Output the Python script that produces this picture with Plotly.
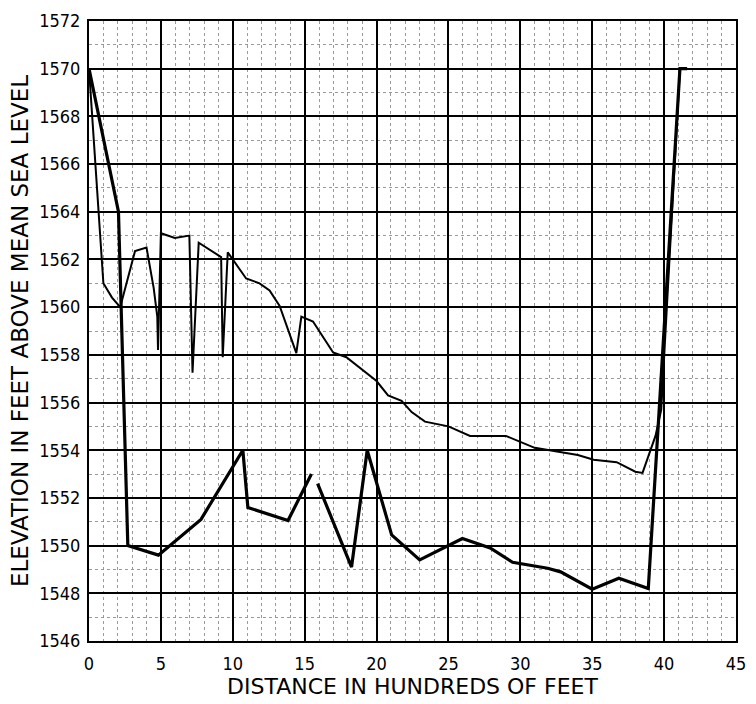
import plotly.graph_objects as go

# Upper (water-surface) profile
upper_x = [0.0, 1.0, 1.6, 2.17, 3.2, 4.0, 4.5, 4.75, 4.8, 4.9, 5.0, 5.97, 6.98, 7.2, 7.63,
           9.19, 9.3, 9.65, 10.47, 10.93, 11.86, 12.56, 13.26, 14.42, 14.77, 15.58, 16.98,
           17.9, 20.0, 20.8, 21.74, 22.44, 23.37, 25.0, 26.5, 29.0, 31.0, 34.0, 35.1, 36.7,
           38.0, 38.5, 39.4, 39.8, 41.1]
upper_y = [1570.0, 1561.0, 1560.4, 1560.0, 1562.35, 1562.5, 1560.8, 1559.6, 1558.2, 1560.8,
           1563.1, 1562.9, 1563.0, 1557.25, 1562.7, 1562.1, 1557.9, 1562.3, 1561.6, 1561.2,
           1561.0, 1560.7, 1560.05, 1558.07, 1559.6, 1559.4, 1558.1, 1557.9, 1556.9, 1556.3,
           1556.07, 1555.6, 1555.2, 1555.0, 1554.6, 1554.6, 1554.1, 1553.8, 1553.6, 1553.5,
           1553.1, 1553.05, 1554.6, 1555.7, 1570.0]

# Lower (channel bottom) profile
lower_x = [0.0, 2.05, 2.7, 4.83, 7.79, 10.7, 11.05, 13.84, 15.47, None, 15.9, 18.26, 19.35,
           21.05, 23.0, 25.97, 27.9, 29.46, 31.9, 32.8, 35.0, 36.85, 38.9, 41.1, 41.6]
lower_y = [1570.0, 1564.0, 1550.0, 1549.6, 1551.1, 1554.0, 1551.6, 1551.05, 1553.0, None,
           1552.6, 1549.1, 1554.0, 1550.45, 1549.4, 1550.3, 1549.9, 1549.3, 1549.05, 1548.9,
           1548.17, 1548.63, 1548.2, 1570.0, 1570.0]

x_ticks = list(range(0, 46, 5))
y_ticks = list(range(1546, 1573, 2))

FONT = "DejaVu Sans Condensed, Roboto Condensed, Liberation Sans Narrow, Roboto, DejaVu Sans"
TITLE_FONT = "DejaVu Sans"

fig = go.Figure()
fig.add_trace(go.Scatter(x=upper_x, y=upper_y, mode="lines",
                         line=dict(color="black", width=2), showlegend=False))
fig.add_trace(go.Scatter(x=lower_x, y=lower_y, mode="lines", connectgaps=False,
                         line=dict(color="black", width=3.2), showlegend=False))

fig.update_layout(
    width=756, height=704,
    margin=dict(l=89, r=10, t=14, b=63),
    paper_bgcolor="white", plot_bgcolor="white",
    font=dict(family=FONT, color="black", size=16),
)
fig.update_xaxes(
    range=[0, 45], tickvals=x_ticks, ticktext=[str(v) for v in x_ticks],
    showgrid=True, gridcolor="black", gridwidth=2,
    showline=True, linecolor="black", linewidth=2, mirror=True,
    zeroline=False, ticks="", ticklabelstandoff=5, ticklabeloverflow="allow",
    tickfont=dict(family=FONT, size=18),
    minor=dict(dtick=1, showgrid=True, gridcolor="#9a9a9a", gridwidth=1, griddash="dot"),
    title=dict(text="DISTANCE IN HUNDREDS OF FEET", font=dict(family=TITLE_FONT, size=22), standoff=4),
)
fig.update_yaxes(
    range=[1546, 1572], tickvals=y_ticks, ticktext=[str(v) for v in y_ticks],
    showgrid=True, gridcolor="black", gridwidth=2,
    showline=True, linecolor="black", linewidth=2, mirror=True,
    zeroline=False, ticks="", ticklabelstandoff=3, ticklabeloverflow="allow",
    tickfont=dict(family=FONT, size=18),
    minor=dict(dtick=1, showgrid=True, gridcolor="#9a9a9a", gridwidth=1, griddash="dot"),
    title=dict(text="ELEVATION IN FEET ABOVE MEAN SEA LEVEL", font=dict(family=TITLE_FONT, size=23), standoff=4),
)

fig.write_html("out.html")
